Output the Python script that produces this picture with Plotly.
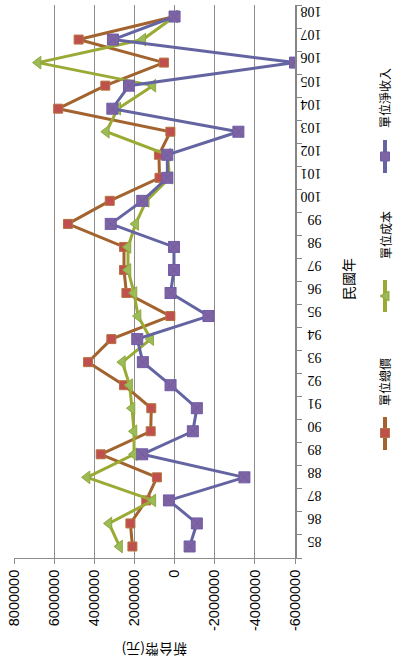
import plotly.graph_objects as go

years = [str(y) for y in range(85, 109)]
unit_total = [2100000, 2200000, 1410000, 880000, 3680000, 1190000, 1160000, 2520000,
              4310000, 3150000, 210000, 2400000, 2520000, 2520000, 5310000, 3230000,
              750000, 780000, 210000, 5800000, 3450000, 530000, 4780000, 0]
unit_cost = [2740000, 3270000, 1080000, 4360000, 2020000, 2020000, 2120000, 2240000,
             2600000, 1190000, 1820000, 2020000, 2320000, 2320000, 1940000, 1410000,
             250000, 350000, 3400000, 2830000, 1080000, 6800000, 1580000, 0]
unit_net = [-750000, -1110000, 280000, -3480000, 1610000, -910000, -1110000, 200000,
            1580000, 1860000, -1690000, 200000, 30000, 30000, 3180000, 1610000,
            360000, 360000, -3180000, 3100000, 2270000, -6000000, 3070000, 0]
value_ticks = [8000000, 6000000, 4000000, 2000000, 0, -2000000, -4000000, -6000000]
value_tick_text = [str(v) for v in value_ticks]

series_names = ["單位總價", "單位成本", "單位淨收入"]

W, H = 398, 671
L, R, T, B = 14, 295, 5, 558

BROWN = "#A2632E"
GREEN = "#9AAA34"
PURPLE = "#6464A2"

fig = go.Figure()
fig.add_trace(go.Scatter(
    x=unit_total, y=years, mode="lines+markers", name=series_names[0],
    line=dict(color=BROWN, width=3),
    marker=dict(symbol="square", size=9, color="#C0504D", line=dict(color="#B5733E", width=1)),
))
fig.add_trace(go.Scatter(
    x=unit_cost, y=years, mode="lines+markers", name=series_names[1],
    line=dict(color=GREEN, width=3),
    marker=dict(symbol="triangle-left", size=11, color="#9BBB59", line=dict(color="#8FA83C", width=1)),
))
fig.add_trace(go.Scatter(
    x=unit_net, y=years, mode="lines+markers", name=series_names[2],
    line=dict(color=PURPLE, width=3),
    marker=dict(symbol="square-x", size=11, color="#8064A2", line=dict(color="#6E5CA8", width=1)),
))

fig.update_layout(
    width=W, height=H,
    margin=dict(l=0, r=0, t=0, b=0, autoexpand=False),
    paper_bgcolor="white", plot_bgcolor="white",
    showlegend=False,
    xaxis=dict(
        domain=[L / W, R / W],
        range=[8000000, -6000000],
        tickvals=value_ticks, ticktext=value_tick_text,
        tickangle=-90,
        tickfont=dict(family="Liberation Sans", size=14.5, color="#000000"),
        showgrid=True, gridcolor="#8C8C8C", gridwidth=1,
        zeroline=False,
        showline=True, linecolor="#8C8C8C", linewidth=1,
        ticks="outside", ticklen=5, tickcolor="#8C8C8C",
        automargin=False,
    ),
    yaxis=dict(
        domain=[1 - B / H, 1 - T / H],
        type="category",
        categoryorder="array", categoryarray=years,
        range=[-0.5, 23.5],
        side="right",
        tickangle=180,
        tickfont=dict(family="Liberation Serif", size=14, color="#000000"),
        showgrid=False, zeroline=False,
        showline=True, linecolor="#868686", linewidth=1.5,
        ticks="outside", ticklen=5, tickcolor="#868686",
        tickson="boundaries",
        ticklabelstandoff=22,
        automargin=False,
    ),
)

def px(x):
    return x / W

def py(y):
    return 1 - y / H

cjk = "Noto Sans CJK TC"
annotations = [
    dict(text="新台幣(元)", x=px(155), y=py(650), textangle=180, font=dict(family=cjk, size=14, color="#000")),
    dict(text="民國年", x=px(348), y=py(279), textangle=-90, font=dict(family=cjk, size=14, color="#000")),
    dict(text=series_names[2], x=px(385), y=py(98), textangle=-90, font=dict(family=cjk, size=12, color="#000")),
    dict(text=series_names[1], x=px(385), y=py(235), textangle=-90, font=dict(family=cjk, size=12, color="#000")),
    dict(text=series_names[0], x=px(385), y=py(382), textangle=-90, font=dict(family=cjk, size=12, color="#000")),
]
for a in annotations:
    a.update(xref="paper", yref="paper", showarrow=False, xanchor="center", yanchor="middle")
fig.update_layout(annotations=annotations)

shapes = []
legend_items = [(140, 173, PURPLE), (280, 312, GREEN), (417, 450, BROWN)]
for y0, y1, col in legend_items:
    shapes.append(dict(type="line", xref="paper", yref="paper",
                       x0=px(385), x1=px(385), y0=py(y0), y1=py(y1),
                       line=dict(color=col, width=4)))
cx, cy = 385, 156.5
shapes.append(dict(type="rect", xref="paper", yref="paper",
                   x0=px(cx - 4.5), x1=px(cx + 4.5), y0=py(cy - 4.5), y1=py(cy + 4.5),
                   fillcolor="#8064A2", line=dict(color="#6E5CA8", width=1)))
cx, cy = 385, 296
path = f"M {px(cx-5)},{py(cy)} L {px(cx+4)},{py(cy-5)} L {px(cx+4)},{py(cy+5)} Z"
shapes.append(dict(type="path", xref="paper", yref="paper", path=path,
                   fillcolor="#9BBB59", line=dict(color="#8FA83C", width=1)))
cx, cy = 385, 433
shapes.append(dict(type="rect", xref="paper", yref="paper",
                   x0=px(cx - 4.5), x1=px(cx + 4.5), y0=py(cy - 4.5), y1=py(cy + 4.5),
                   fillcolor="#C0504D", line=dict(color="#B5733E", width=1)))
fig.update_layout(shapes=shapes)

fig.write_html("out.html", config={"displayModeBar": False},
               post_script="document.body.style.margin='0px';document.body.style.overflow='hidden';")
